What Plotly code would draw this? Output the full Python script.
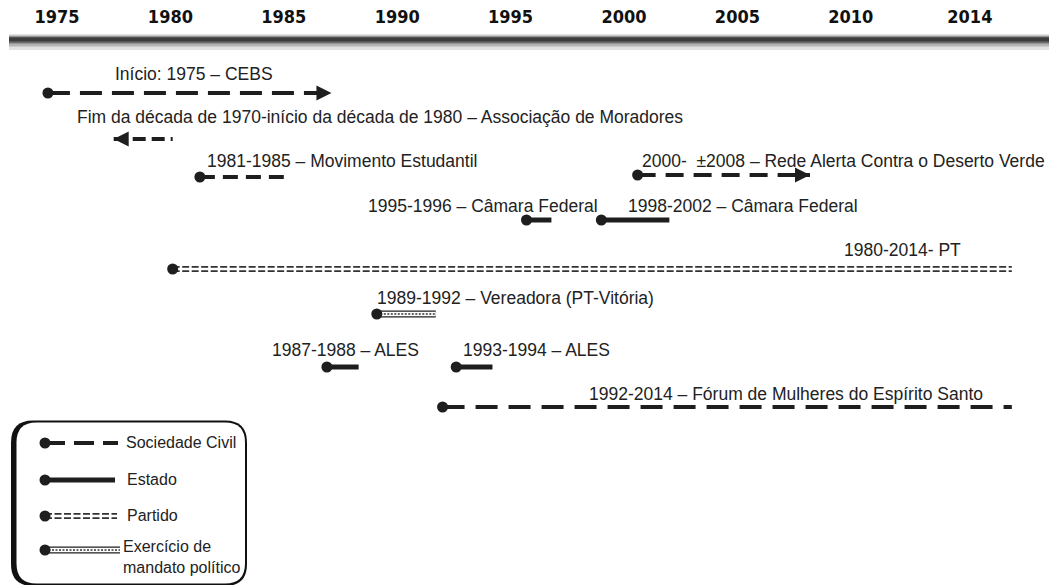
import plotly.graph_objects as go

# ---------------- data ----------------
labels = [
    "Início: 1975 – CEBS",
    "Fim da década de 1970-início da década de 1980 – Associação de Moradores",
    "1981-1985 – Movimento Estudantil",
    "2000-  \u00b12008 – Rede Alerta Contra o Deserto Verde",
    "1995-1996 – Câmara Federal",
    "1998-2002 – Câmara Federal",
    "1980-2014- PT",
    "1989-1992 – Vereadora (PT-Vitória)",
    "1987-1988 – ALES",
    "1993-1994 – ALES",
    "1992-2014 – Fórum de Mulheres do Espírito Santo",
]
# drawn extent of each bar, in years
start_year = [1974.6, 1977.5, 1981.3, 2000.6, 1995.7, 1999.0, 1980.1, 1989.1, 1986.9, 1992.6, 1992.0]
end_year   = [1987.1, 1980.1, 1985.0, 2008.2, 1996.8, 2002.0, 2017.1, 1991.7, 1988.3, 1994.2, 2017.1]
kind = ["civil", "civil", "civil", "civil", "estado", "estado", "partido", "mandato",
        "estado", "estado", "civil"]

tick_text = ["1975", "1980", "1985", "1990", "1995", "2000", "2005", "2010", "2014"]
tick_year = [1975, 1980, 1985, 1990, 1995, 2000, 2005, 2010, 2015.25]

legend_names = ["Sociedade Civil", "Estado", "Partido", "Exercício de<br>mandato político"]
legend_kinds = ["civil", "estado", "partido", "mandato"]

# ---------------- layout / style ----------------
W, H = 1053, 585
row_y   = [93, 139, 177, 175, 220, 220, 269, 314, 367, 367, 407]
label_x = [113, 75, 205, 640, 366, 626, 842, 375, 270, 461, 587]
label_y = [74, 117, 161, 161, 206, 206, 250, 298, 350, 350, 394]
dash_style = ["22px,10px", "13px,6px", "15px,8px", "18px,10px", None, None, None, None,
              None, None, "22px,11px"]
arrow = ["end", "start", None, "end", None, None, None, None, None, None, None]
dot   = [True, False, True, True, True, True, True, True, True, True, True]

INK = "#1e1e1e"
TXT = "#222222"
FONT = "Liberation Sans, Arial, sans-serif"

fig = go.Figure()


def draw(x0, x1, y, k, dash, xa="x", show_dot=True, arrow_at=None):
    xs = [x0, x1]
    if k == "civil":
        fig.add_trace(go.Scatter(x=xs, y=[y, y], mode="lines", xaxis=xa,
                                 line=dict(color=INK, width=4, dash=dash or "20px,9px"),
                                 hoverinfo="skip", showlegend=False))
    elif k == "estado":
        fig.add_trace(go.Scatter(x=xs, y=[y, y], mode="lines", xaxis=xa,
                                 line=dict(color=INK, width=5),
                                 hoverinfo="skip", showlegend=False))
    elif k == "partido":
        for dy in (-2.2, 2.2):
            fig.add_trace(go.Scatter(x=xs, y=[y + dy, y + dy], mode="lines", xaxis=xa,
                                     line=dict(color="#333333", width=1.7, dash="7px,2.5px"),
                                     hoverinfo="skip", showlegend=False))
    elif k == "mandato":
        fig.add_trace(go.Scatter(x=xs, y=[y, y], mode="lines", xaxis=xa,
                                 line=dict(color=INK, width=7),
                                 hoverinfo="skip", showlegend=False))
        fig.add_trace(go.Scatter(x=xs, y=[y, y], mode="lines", xaxis=xa,
                                 line=dict(color="white", width=4.6),
                                 hoverinfo="skip", showlegend=False))
        fig.add_trace(go.Scatter(x=xs, y=[y, y], mode="lines", xaxis=xa,
                                 line=dict(color="#666666", width=1.8, dash="2px,1.5px"),
                                 hoverinfo="skip", showlegend=False))
    if show_dot:
        fig.add_trace(go.Scatter(x=[x0], y=[y], mode="markers", xaxis=xa,
                                 marker=dict(symbol="circle", size=11, color=INK),
                                 hoverinfo="skip", showlegend=False))
    if arrow_at == "end":
        fig.add_trace(go.Scatter(x=[x1], y=[y], mode="markers", xaxis=xa,
                                 marker=dict(symbol="arrow-right", size=15, color=INK),
                                 hoverinfo="skip", showlegend=False))
    elif arrow_at == "start":
        fig.add_trace(go.Scatter(x=[x0], y=[y], mode="markers", xaxis=xa,
                                 marker=dict(symbol="arrow-left", size=15, color=INK),
                                 hoverinfo="skip", showlegend=False))


for i in range(len(labels)):
    draw(start_year[i], end_year[i], row_y[i], kind[i], dash_style[i],
         show_dot=dot[i], arrow_at=arrow[i])
    fig.add_annotation(x=label_x[i], y=label_y[i], xref="x2", yref="y", text=labels[i],
                       showarrow=False, xanchor="left", yanchor="middle",
                       font=dict(family=FONT, size=17.5, color=TXT))


def rounded(x0, x1, y0, y1, r):
    return (f"M{x0+r},{y0} L{x1-r},{y0} Q{x1},{y0} {x1},{y0+r} L{x1},{y1-r} "
            f"Q{x1},{y1} {x1-r},{y1} L{x0+r},{y1} Q{x0},{y1} {x0},{y1-r} "
            f"L{x0},{y0+r} Q{x0},{y0} {x0+r},{y0} Z")


# ----- legend box -----
shapes = [
    dict(type="path", xref="x2", yref="y", path=rounded(11, 247, 420.5, 586, 22),
         fillcolor="#111111", line=dict(width=0), layer="below"),
    dict(type="path", xref="x2", yref="y", path=rounded(16.5, 245, 422.5, 583.5, 20),
         fillcolor="white", line=dict(width=0), layer="below"),
]

leg_y = [443, 480, 516, 550]
leg_txt_y = [442, 479, 515, 557]
for j, k in enumerate(legend_kinds):
    x_end = [118, 115, 117, 120][j]
    draw(45, x_end, leg_y[j], k, "20px,9px" if k == "civil" else None, xa="x2")
    fig.add_annotation(x=[124, 125, 125, 121][j], y=leg_txt_y[j], xref="x2", yref="y",
                       text=legend_names[j], showarrow=False, xanchor="left",
                       yanchor="middle", align="left",
                       font=dict(family=FONT, size=16, color=TXT))

# ----- top time bar (shaded) -----
for w, c, yy in [(16, "#e2e2e2", 42), (11, "#b4b4b4", 41), (7, "#6e6e6e", 40), (4, "#3c3c3c", 39.5)]:
    shapes.append(dict(type="line", xref="x2", yref="y", x0=9, x1=1049, y0=yy, y1=yy,
                       line=dict(color=c, width=w), layer="below"))

px_per_year = (624 - 57) / 25.0
x_range = [1975 - 57 / px_per_year, 1975 + (W - 57) / px_per_year]

fig.update_layout(
    width=W, height=H,
    margin=dict(l=0, r=0, t=0, b=0),
    paper_bgcolor="white", plot_bgcolor="white",
    shapes=shapes,
    showlegend=False,
    xaxis=dict(range=x_range, side="top", anchor="free", position=1 - 39 / H,
               showgrid=False, zeroline=False, showline=False,
               tickmode="array", tickvals=tick_year, ticktext=tick_text,
               ticks="outside", ticklen=9, tickcolor="rgba(0,0,0,0)",
               tickfont=dict(family="DejaVu Sans Condensed, Liberation Sans Narrow, sans-serif",
                             size=18, color="#111111", weight="bold")),
    xaxis2=dict(range=[0, W], overlaying="x", visible=False),
    yaxis=dict(range=[H, 0], visible=False),
)

fig.write_html("out.html", config={"displayModeBar": False},
               post_script="document.body.style.margin='0';")
